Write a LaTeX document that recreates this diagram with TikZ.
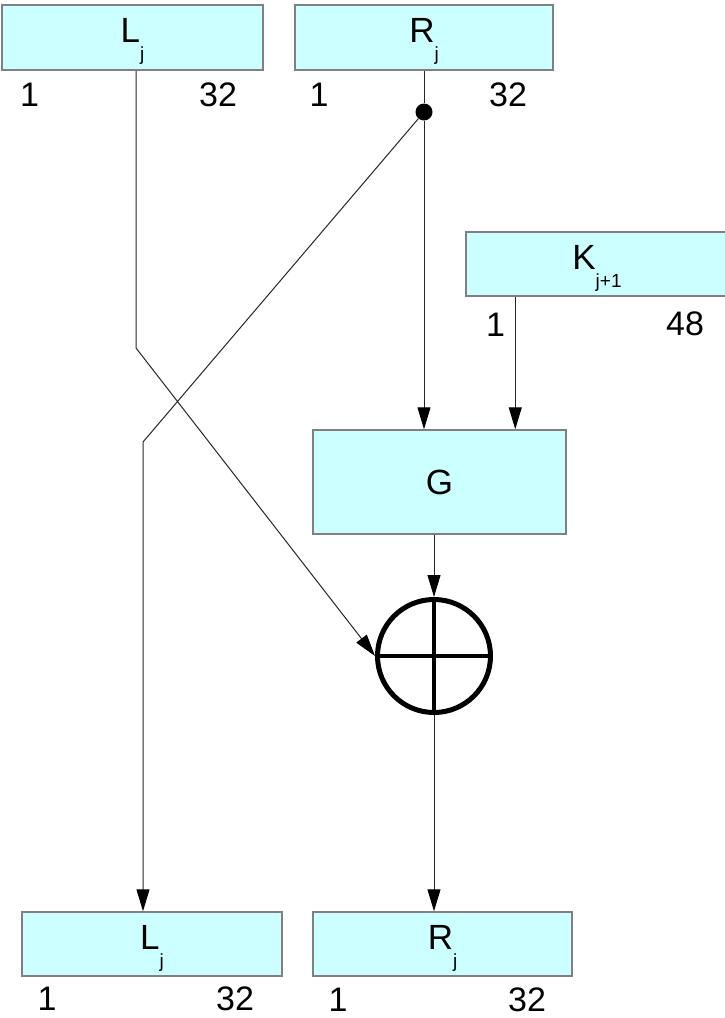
\documentclass[tikz,border=0pt]{standalone}
\usepackage{fontspec}
\setmainfont{Liberation Sans}
\usetikzlibrary{arrows.meta, calc}
\definecolor{regfill}{HTML}{CCFFFF}
\definecolor{regline}{HTML}{808080}
\newcommand\boxlabel[2]{\raisebox{-5pt}[0pt][0pt]{#1\raisebox{-18pt}{\fontsize{19}{19}\selectfont #2}}}

\begin{document}
\begin{tikzpicture}[
  x=1pt, y=-1pt,
  font=\fontsize{35}{38}\selectfont,
  reg/.style={rectangle, draw=regline, line width=1.5pt, fill=regfill,
              minimum height=65pt, inner sep=0pt},
  num/.style={anchor=base west, inner sep=0pt, font=\fontsize{34}{36}\selectfont},
  xorop/.style={circle, draw=black, line width=5pt, minimum size=113pt, inner sep=0pt},
  dot/.style={circle, fill=black, minimum size=17pt, inner sep=0pt},
  wire/.style={draw=black!85, line width=1pt},
  arr/.style={wire, -{Triangle[length=22pt, width=13pt, color=black]}},
]
\useasboundingbox (0,0) rectangle (724,1018);
\node (ltop) [reg, minimum width=261pt] at (132.5,37.5) {\boxlabel{L}{j}};
\node (rtop) [reg, minimum width=258pt] at (424,37.5)   {\boxlabel{R}{j}};
\node (kbox) [reg, minimum width=262pt, minimum height=64pt] at (597,264) {\boxlabel{K}{j+1}};
\node (G)    [reg, minimum width=253pt, minimum height=104pt] at (439.5,482) {G};
\node (xor)  [xorop] at (434,656) {};
\node (lbot) [reg, minimum width=260pt, minimum height=64pt] at (152,944)   {\boxlabel{L}{j}};
\node (rbot) [reg, minimum width=259pt, minimum height=64pt] at (442.5,944) {\boxlabel{R}{j}};
\node (split) [dot] at (424,112) {};
\draw [line width=4.5pt] (xor.north) -- (xor.south) (xor.west) -- (xor.east);
% bit numbers under the registers
\foreach \nm/\px/\py/\tx in {la/20/106/1, lb/199/106/32, ra/309.5/106/1, rb/489/106/32,
                             ka/486/336/1, kb/666/335/48, ma/37.5/1010/1, mb/216/1010/32,
                             sa/328.5/1011/1, sb/508/1011/32}
  \node [num] (n-\nm) at (\px,\py) {\tx};
% edges
\coordinate (lbend) at (136,348);
\coordinate (rbend) at (143,442);
\coordinate (kx) at ($(kbox.south west)+(50,0)$);
\draw [wire] (rtop.south) -- (split);
\draw [arr] (split) -- (split |- G.north);
\draw [arr] (ltop.south -| lbend) -- (lbend) -- (xor.west);
\draw [arr] (split) -- (rbend) -- (rbend |- lbot.north);
\draw [arr] (kx) -- (kx |- G.north);
\draw [arr] (G.south -| xor) -- (xor.north);
\draw [arr] (xor.south) -- (xor.south |- rbot.north);
\end{tikzpicture}
\end{document}
